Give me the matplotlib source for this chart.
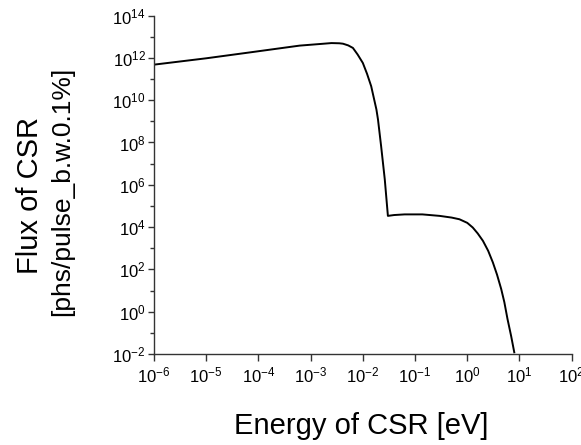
import matplotlib.pyplot as plt
import numpy as np
from matplotlib.ticker import FixedLocator, NullFormatter

plt.rcParams['mathtext.fontset'] = 'custom'
plt.rcParams['mathtext.rm'] = 'Liberation Sans'
plt.rcParams['mathtext.it'] = 'Liberation Sans'
plt.rcParams['font.family'] = ['Liberation Sans', 'DejaVu Sans']

# Энергия (log10 эВ) и поток (log10)
log_energy = [-6.0, -5.0, -4.16, -3.21, -2.8, -2.6, -2.45, -2.38, -2.28, -2.19,
              -2.10, -2.0, -1.92, -1.84, -1.74, -1.71, -1.65, -1.58, -1.52,
              -1.4, -1.2, -0.86, -0.53, -0.3, -0.15, 0.0, 0.105, 0.20, 0.30,
              0.40, 0.49, 0.57, 0.65, 0.71, 0.77, 0.84, 0.90]
log_flux = [11.68, 11.98, 12.26, 12.58, 12.66, 12.70, 12.69, 12.67, 12.59, 12.47,
            12.16, 11.76, 11.25, 10.66, 9.56, 9.09, 7.83, 6.26, 4.53,
            4.57, 4.60, 4.60, 4.53, 4.45, 4.37, 4.20, 3.98, 3.70, 3.35,
            2.88, 2.33, 1.75, 1.07, 0.45, -0.34, -1.15, -1.92]

energy = 10 ** np.array(log_energy)
flux = 10 ** np.array(log_flux)

fig = plt.figure(figsize=(5.81, 4.45), dpi=100)
ax = fig.add_axes([0.265, 0.2045, 0.719, 0.7605])

ax.plot(energy, flux, color='black', lw=1.4)

ax.set_xscale('log')
ax.set_yscale('log')
ax.set_xlim(1e-6, 1e2)
ax.set_ylim(1e-2, 1e14)

x_ticks = [10.0 ** e for e in range(-6, 3)]
y_ticks = [10.0 ** e for e in range(-2, 15, 2)]
y_minor = [10.0 ** e for e in range(-1, 14, 2)]
ax.xaxis.set_major_locator(FixedLocator(x_ticks))
ax.xaxis.set_minor_locator(FixedLocator([]))
ax.yaxis.set_major_locator(FixedLocator(y_ticks))
ax.yaxis.set_minor_locator(FixedLocator(y_minor))
ax.yaxis.set_minor_formatter(NullFormatter())
ax.set_xticklabels([r'$10^{%d}$' % e for e in range(-6, 3)])
ax.set_yticklabels([r'$10^{%d}$' % e for e in range(-2, 15, 2)])

for side in ['top', 'right']:
    ax.spines[side].set_visible(False)
for side in ['left', 'bottom']:
    ax.spines[side].set_color('#333333')
    ax.spines[side].set_linewidth(1.0)

ax.tick_params(which='major', length=4, width=1, color='#333333', labelsize=12)
ax.tick_params(axis='x', which='major', length=5, pad=3)
ax.tick_params(axis='y', which='major', pad=2)
ax.tick_params(which='minor', length=3, width=1, color='#333333')

fig.text(361 / 581, 1 - 426 / 445, 'Energy of CSR [eV]', ha='center', va='center',
         fontsize=21)
fig.text(30 / 581, 1 - 195 / 445, 'Flux of CSR', ha='center', va='center',
         rotation=90, fontsize=21)
fig.text(62 / 581, 1 - 191 / 445, '[phs/pulse_b.w.0.1%]', ha='center', va='center',
         rotation=90, fontsize=19)

fig.savefig('out.png', dpi=100)
